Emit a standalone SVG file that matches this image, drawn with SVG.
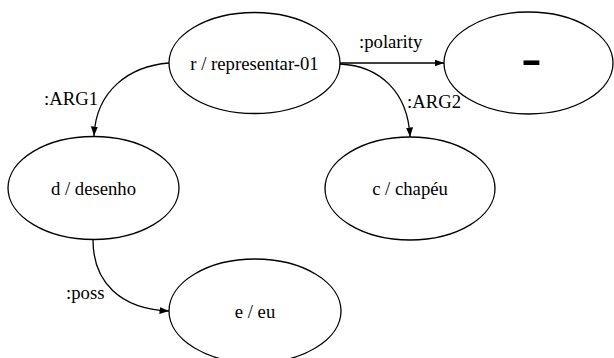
<svg xmlns="http://www.w3.org/2000/svg" width="614" height="358" viewBox="0 0 614 358">
<style>
  .node ellipse { fill: #ffffff; stroke: #000000; stroke-width: 1.3; }
  .node text { font-family: "Liberation Serif", "Times New Roman", serif; font-size: 18.7px; fill: #000000; text-anchor: middle; }
  .edge path { fill: none; stroke: #000000; stroke-width: 1.3; marker-end: url(#arrow); }
  .label { font-family: "Liberation Serif", "Times New Roman", serif; font-size: 18.7px; fill: #000000; }
</style>
<defs>
  <marker id="arrow" markerUnits="userSpaceOnUse" markerWidth="10" markerHeight="8" refX="9.5" refY="3.5" orient="auto">
    <path d="M0,0 L9.5,3.5 L0,7 z" fill="#000000"/>
  </marker>
</defs>
<rect width="614" height="358" fill="#ffffff"/>
<g id="connectors">
  <g class="edge" id="e-r-d">
    <path d="M169,63 C130,66 96,90 94,136"/>
    <text class="label" x="44" y="105">:ARG1</text>
  </g>
  <g class="edge" id="e-r-neg">
    <path d="M340,63 L444,63"/>
    <text class="label" x="359" y="48">:polarity</text>
  </g>
  <g class="edge" id="e-r-c">
    <path d="M340,64 C380,66 408,92 410,137"/>
    <text class="label" x="407" y="108">:ARG2</text>
  </g>
  <g class="edge" id="e-d-e">
    <path d="M93,240 C93,282 120,309 169,311"/>
    <text class="label" x="66" y="299">:poss</text>
  </g>
</g>
<g class="node" id="r">
  <ellipse cx="254.5" cy="63" rx="85.5" ry="50.5"/>
  <text x="254.5" y="69.5">r / representar-01</text>
</g>
<g class="node" id="neg">
  <ellipse cx="528.5" cy="63" rx="84.5" ry="51"/>
  <text x="531.5" y="77" style="font-size:61px">-</text>
</g>
<g class="node" id="d">
  <ellipse cx="93.5" cy="188" rx="85.5" ry="51.5"/>
  <text x="93.5" y="195">d / desenho</text>
</g>
<g class="node" id="c">
  <ellipse cx="410" cy="188.5" rx="85" ry="51.5"/>
  <text x="410" y="195">c / chapéu</text>
</g>
<g class="node" id="e">
  <ellipse cx="255" cy="311" rx="86" ry="52"/>
  <text x="255" y="317.5">e / eu</text>
</g>
</svg>
